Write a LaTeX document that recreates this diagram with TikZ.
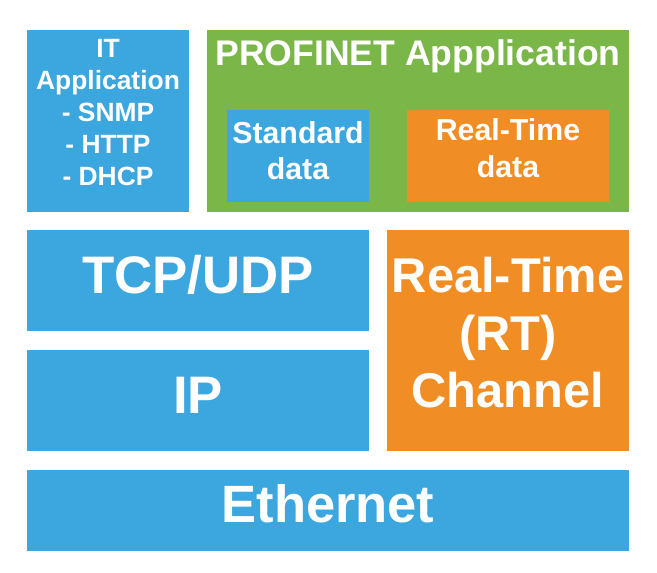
\documentclass[tikz,border=0pt]{standalone}
\usepackage{fontspec}
\setmainfont{Liberation Sans}
\definecolor{cblue}{RGB}{60,166,222}
\definecolor{cgreen}{RGB}{122,182,72}
\definecolor{corange}{RGB}{240,141,36}
\begin{document}
\begin{tikzpicture}[x=1pt,y=-1pt,
  layer/.style={draw=none,inner sep=0pt,outer sep=0pt,rectangle},
  lbl/.style={text=white,inner sep=0pt,anchor=base,font=\bfseries\fontsize{#1}{#1}\selectfont}]
\useasboundingbox (0,0) rectangle (657,573);
% boxes
\node[layer,fill=cblue,minimum width=162pt,minimum height=182pt] (it) at (108,121) {};
\node[layer,fill=cgreen,minimum width=422pt,minimum height=182pt] (pn) at (418,121) {};
\node[layer,fill=cblue,minimum width=142pt,minimum height=92pt] (std) at (298,156) {};
\node[layer,fill=corange,minimum width=202pt,minimum height=92pt] (rtd) at (508,156) {};
\node[layer,fill=cblue,minimum width=342pt,minimum height=101pt] (tcp) at (198,280.5) {};
\node[layer,fill=cblue,minimum width=342pt,minimum height=101pt] (ip) at (198,400.5) {};
\node[layer,fill=corange,minimum width=242pt,minimum height=221pt] (rtc) at (508,340.5) {};
\node[layer,fill=cblue,minimum width=602pt,minimum height=81pt] (eth) at (328,510.5) {};
% texts
\node[lbl=26.4] (t1) at (108,57) {IT};
\node[lbl=26.4] (t2) at (108,89) {Application};
\node[lbl=26.4] (t3) at (108,121) {- SNMP};
\node[lbl=26.4] (t4) at (108,153) {- HTTP};
\node[lbl=26.4] (t5) at (108,185) {- DHCP};
\node[lbl=35.6] (t6) at (418,65) {PROFINET Appplication};
\node[lbl=30.3] (t7) at (298,143) {Standard};
\node[lbl=30.3] (t8) at (298,179) {data};
\node[lbl=30.3] (t9) at (508,140) {Real-Time};
\node[lbl=30.3] (t10) at (508,177) {data};
\node[lbl=52.8] (t11) at (198,293) {TCP/UDP};
\node[lbl=52.8] (t12) at (198,413) {IP};
\node[lbl=48.8] (t13) at (508,292) {Real-Time};
\node[lbl=48.8] (t14) at (508,350) {(RT)};
\node[lbl=48.8] (t15) at (508,407) {Channel};
\node[lbl=52.5] (t16) at (328,522) {Ethernet};
\end{tikzpicture}
\end{document}
